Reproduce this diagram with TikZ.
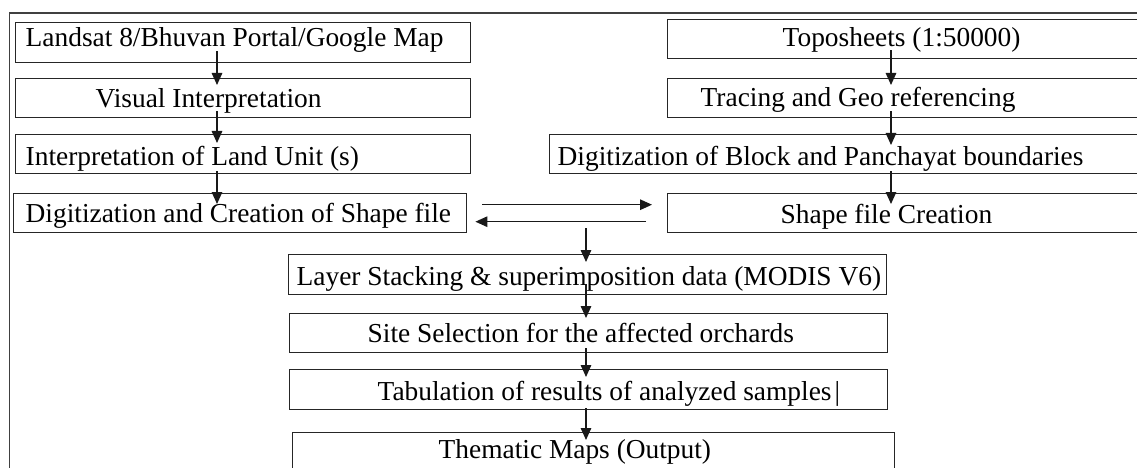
\documentclass[tikz,border=0pt]{standalone}
\usepackage{fontspec}
\setmainfont{Liberation Serif}
\usetikzlibrary{arrows.meta,calc}
\newcommand\bxt[4]{\makebox[#1][l]{\hspace*{#2}\raisebox{#3}{#4}}}
\begin{document}
\begin{tikzpicture}[x=1pt,y=-1pt,
  font=\fontsize{27.4}{30}\selectfont,
  box/.style={draw=black!85,line width=1.4pt,anchor=north west,inner sep=0pt,
    text height=0pt,text depth=0pt,minimum height=#1},
  box/.default=39pt,
  arr/.style={draw=black!90,line width=1.4pt,-{Triangle[length=12pt,width=10.5pt]}},
  frame/.style={draw=black!75,line width=1.1pt}]
\useasboundingbox (0,0) rectangle (1137,468);
\clip (0,0) rectangle (1137,468);
\fill[white] (0,0) rectangle (1137,468);
\draw[frame] (9.5,480) -- (9.5,13) -- (1150,13);
% left column
\node[box=40pt] (L1) at (15,22) {\bxt{455pt}{10pt}{-4pt}{Landsat 8/Bhuvan Portal/Google Map}};
\node[box] (L2) at (15,78) {\bxt{455pt}{80pt}{-9pt}{Visual Interpretation}};
\node[box] (L3) at (15,134) {\bxt{455pt}{10pt}{-11pt}{Interpretation of Land Unit (s)}};
\node[box] (L4) at (13,193) {\bxt{453pt}{12pt}{-9.5pt}{Digitization and Creation of Shape file}};
% right column
\node[box] (R1) at (667,19) {\bxt{480pt}{115pt}{-7pt}{Toposheets (1:50000)}};
\node[box] (R2) at (667,78) {\bxt{480pt}{33pt}{-8.5pt}{Tracing and Geo referencing}};
\node[box] (R3) at (549,134) {\bxt{600pt}{8pt}{-11pt}{Digitization of Block and Panchayat boundaries}};
\node[box] (R4) at (667,193) {\bxt{480pt}{113pt}{-10pt}{Shape file Creation}};
% bottom column
\node[box=40pt] (B1) at (288,254) {\bxt{598pt}{8pt}{-11pt}{Layer Stacking \& superimposition data (MODIS V6)}};
\node[box] (B2) at (289,313) {\bxt{598pt}{78pt}{-9pt}{Site Selection for the affected orchards}};
\node[box=40pt] (B3) at (289,369) {\bxt{598pt}{88pt}{-11pt}{Tabulation of results of analyzed samples\hspace{3pt}|}};
\node[box=50pt] (B4) at (292,432) {\bxt{602pt}{146pt}{-0.5pt}{Thematic Maps (Output)}};
% column axes
\coordinate (lx) at (217,0);
\coordinate (rx) at (891,0);
\coordinate (m) at (586,228);
% left arrows
\draw[arr] ($(L1.south -| lx)+(0,-12)$) -- ($(L2.north -| lx)+(0,7)$);
\draw[arr] ($(L2.south -| lx)+(0,-7)$) -- ($(L3.north -| lx)+(0,9)$);
\draw[arr] ($(L3.south -| lx)+(0,-3)$) -- ($(L4.north -| lx)+(0,11)$);
% right arrows
\draw[arr] ($(R1.south -| rx)+(0,-9)$) -- ($(R2.north -| rx)+(0,7)$);
\draw[arr] ($(R2.south -| rx)+(0,-7)$) -- ($(R3.north -| rx)+(0,11)$);
\draw[arr] ($(R3.south -| rx)+(0,-3)$) -- ($(R4.north -| rx)+(0,11)$);
% horizontal arrows
\draw[arr] ($(L4.east)+(15,-8.5)$) -- ($(R4.west)+(-15,-8.5)$);
\draw[arr] ($(R4.west)+(-21,8.5)$) -- ($(L4.east)+(8,8.5)$);
% bottom arrows
\draw[arr] (m) -- ($(B1.north -| m)+(0,8)$);
\draw[arr] ($(B1.south -| m)+(0,-11)$) -- ($(B2.north -| m)+(0,5)$);
\draw[arr] ($(B2.south -| m)+(0,-5)$) -- ($(B3.north -| m)+(0,8)$);
\draw[arr] ($(B3.south -| m)+(0,-2)$) -- ($(B4.north -| m)+(0,8)$);
\end{tikzpicture}
\end{document}
